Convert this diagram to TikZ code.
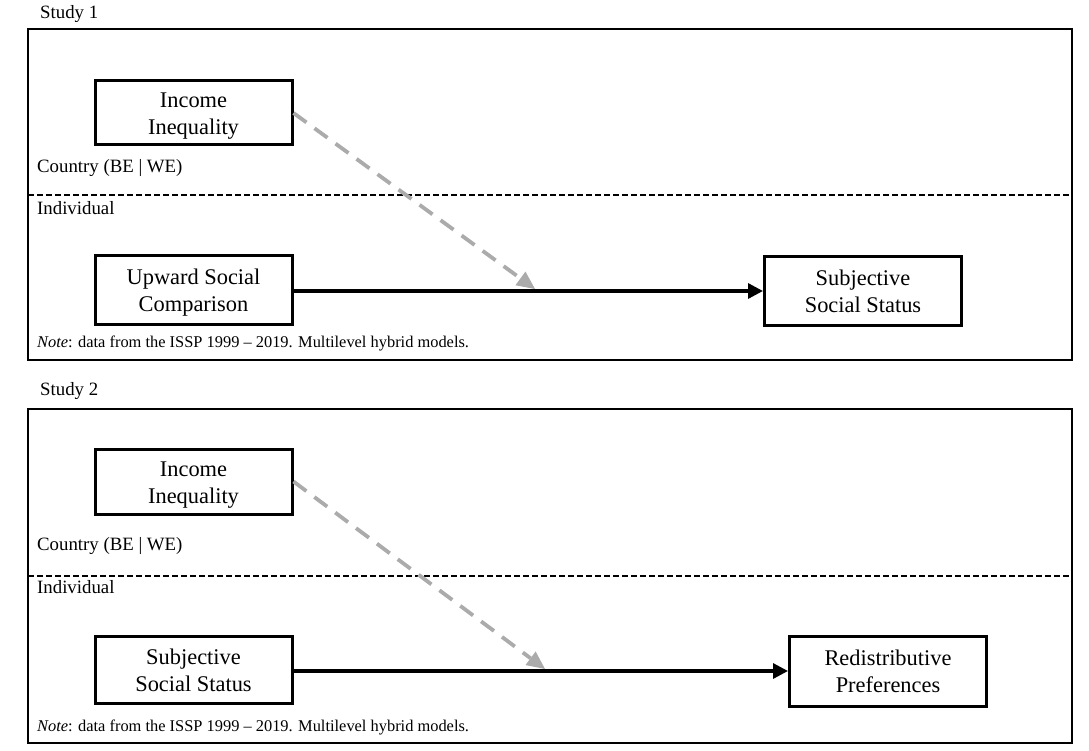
\documentclass[tikz,border=0pt]{standalone}
\usepackage{fontspec}
\setmainfont{Liberation Serif}
\usetikzlibrary{arrows.meta}
\newcommand\topstrutx{\rule{0pt}{21pt}}
\newcommand\botstrutx{\rule[-5pt]{0pt}{5pt}}
\begin{document}
\begin{tikzpicture}[x=1pt,y=-1pt,
  var/.style={draw,line width=3pt,align=center,inner sep=0pt,font=\fontsize{22.4}{27}\selectfont,minimum width=197pt},
  frame/.style={draw,line width=2.1pt},
  lbl/.style={anchor=west,inner sep=0pt,font=\fontsize{18.8}{20}\selectfont},
  notet/.style={anchor=west,inner sep=0pt,font=\fontsize{16.4}{18}\selectfont},
  divider/.style={line width=1.5pt,dash pattern=on 6pt off 3pt},
  path/.style={line width=3.2pt,-{Triangle[length=15pt,width=15pt]}},
  mod/.style={line width=3.8pt,draw=black!33,dash pattern=on 16pt off 10pt,-{Triangle[length=18pt,width=17pt,line width=0pt]}}
]
\useasboundingbox (0,0) rectangle (1089,751);
% ---- Study 1
\node[lbl] (s1) at (40,14) {Study 1};
\draw[frame] (28,29) rectangle (1072,360);
\coordinate (d1l) at (28,195);
\coordinate (d1r) at (1072,195);
\draw[divider] (d1l) -- (d1r);
\node[var,minimum height=64pt] (inc1) at (193.5,113) {\topstrutx Income\\Inequality\botstrutx};
\node[lbl] (c1) at (37,168) {Country (BE | WE)};
\node[lbl] (i1) at (37,208) {Individual};
\node[var,minimum height=68pt] (up) at (193.5,290) {\topstrutx Upward Social\\Comparison\botstrutx};
\node[var,minimum height=68pt] (sss1) at (863,291) {\topstrutx Subjective\\Social Status\botstrutx};
\node[notet] (n1) at (37,343) {\textit{Note}: data from the ISSP 1999 – 2019. Multilevel hybrid models.};
\draw[path] (up.east |- sss1.west) -- (sss1.west);
\coordinate (m1) at (535,289);
\draw[mod] (inc1.east) -- (m1);
% ---- Study 2
\node[lbl] (s2) at (40,391) {Study 2};
\draw[frame] (28,409) rectangle (1072,743);
\coordinate (d2l) at (28,576);
\coordinate (d2r) at (1072,576);
\draw[divider] (d2l) -- (d2r);
\node[var,minimum height=65pt] (inc2) at (193.5,481.5) {\topstrutx Income\\Inequality\botstrutx};
\node[lbl] (c2) at (37,546) {Country (BE | WE)};
\node[lbl] (i2) at (37,587) {Individual};
\node[var,minimum height=67pt] (sss2) at (193.5,669.5) {\topstrutx Subjective\\Social Status\botstrutx};
\node[var,minimum height=70pt] (red) at (888,671) {\topstrutx Redistributive\\Preferences\botstrutx};
\node[notet] (n2) at (37,727) {\textit{Note}: data from the ISSP 1999 – 2019. Multilevel hybrid models.};
\draw[path] (sss2.east |- red.west) -- (red.west);
\coordinate (m2) at (545,669);
\draw[mod] (inc2.east) -- (m2);
\end{tikzpicture}
\end{document}
